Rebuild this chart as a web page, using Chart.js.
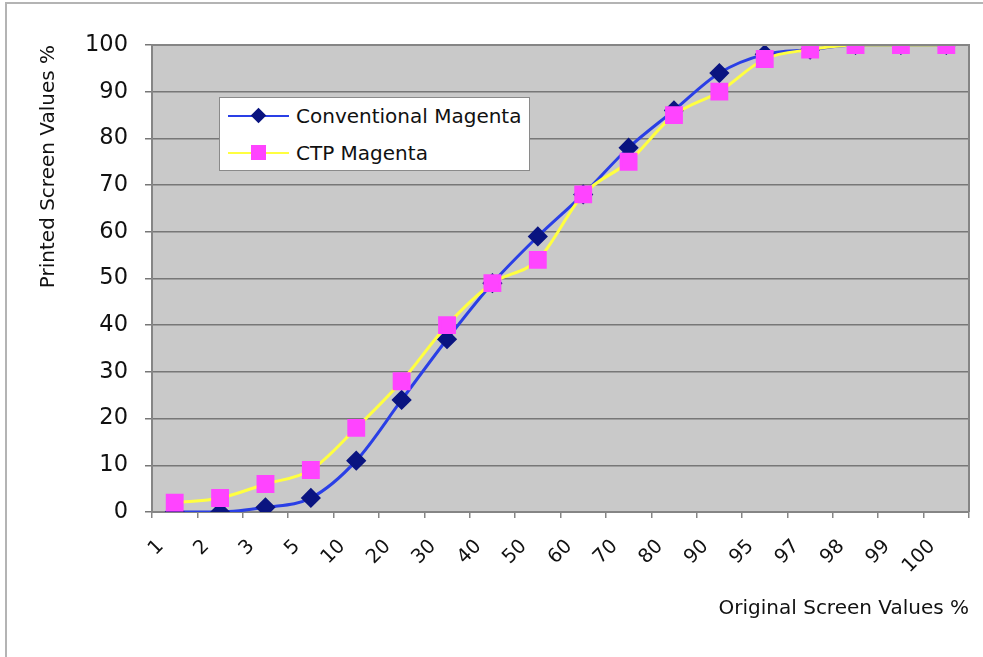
<!DOCTYPE html>
<html>
<head>
<meta charset="utf-8">
<script src="https://cdn.jsdelivr.net/npm/chart.js@4"></script>
<style>
    body { margin: 0; background: #fff; }
    #wrap { position: relative; width: 983px; height: 657px; overflow: hidden; }
    #frame { position: absolute; left: 5px; top: 2px; width: 990px; height: 670px;
             border-left: 2px solid #b4b4b4; border-top: 2px solid #b4b4b4; }
    #legend { position: absolute; left: 219px; top: 97px; width: 309px; height: 72px;
              background: #fff; border: 1px solid #8a8a8a; font-family: "DejaVu Sans", sans-serif;
              font-size: 20px; color: #111; }
    .row { position: absolute; left: 0; height: 30px; line-height: 30px; }
    .row .line { position: absolute; left: 8px; top: 14px; width: 61px; height: 2px; }
    .row .mark { position: absolute; }
    .row span { position: absolute; left: 76px; white-space: nowrap; }
</style>
</head>
<body>
<div id="wrap">
    <div id="frame"></div>
    <canvas id="chart" width="983" height="657"></canvas>
    <div id="legend">
        <div class="row" style="top:3px">
            <div class="line" style="background:#2a3fe6"></div>
            <div class="mark" style="left:33px;top:9px;width:11px;height:11px;background:#0a1480;transform:rotate(45deg)"></div>
            <span>Conventional Magenta</span>
        </div>
        <div class="row" style="top:40px">
            <div class="line" style="background:#ffff40"></div>
            <div class="mark" style="left:31px;top:7px;width:15px;height:15px;background:#ff44ff"></div>
            <span>CTP Magenta</span>
        </div>
    </div>
</div>
<script>
const categories = ['1', '2', '3', '5', '10', '20', '30', '40', '50', '60', '70', '80', '90', '95', '97', '98', '99', '100'];
const conventional = [0, 0, 1, 3, 11, 24, 37, 49, 59, 68, 78, 86, 94, 98, 99, 100, 100, 100];
const ctp = [2, 3, 6, 9, 18, 28, 40, 49, 54, 68, 75, 85, 90, 97, 99, 100, 100, 100];

// grey plot background + top/right border
const plotBox = {
    id: 'plotBox',
    beforeDraw(chart) {
        const { ctx, chartArea: a } = chart;
        ctx.save();
        ctx.fillStyle = '#c9c9c9';
        ctx.fillRect(a.left, a.top, a.right - a.left, a.bottom - a.top);
        ctx.restore();
    },
    afterDatasetsDraw(chart) {
        const { ctx, chartArea: a } = chart;
        ctx.save();
        ctx.strokeStyle = '#858585';
        ctx.lineWidth = 2;
        ctx.beginPath();
        ctx.moveTo(a.left, a.top);
        ctx.lineTo(a.right, a.top);
        ctx.lineTo(a.right, a.bottom);
        ctx.stroke();
        ctx.restore();
    }
};

new Chart(document.getElementById('chart'), {
    type: 'line',
    data: {
        labels: categories,
        datasets: [
            {
                label: 'CTP Magenta',
                data: ctp,
                borderColor: '#ffff40',
                borderWidth: 3,
                backgroundColor: '#ff44ff',
                pointBackgroundColor: '#ff44ff',
                pointBorderColor: '#ff44ff',
                pointStyle: 'rect',
                pointRadius: 10.5,
                cubicInterpolationMode: 'monotone',
                order: 0
            },
            {
                label: 'Conventional Magenta',
                data: conventional,
                borderColor: '#2a3fe6',
                borderWidth: 3,
                backgroundColor: '#0a1480',
                pointBackgroundColor: '#0a1480',
                pointBorderColor: '#0a1480',
                pointStyle: 'rectRot',
                pointRadius: 8,
                cubicInterpolationMode: 'monotone',
                order: 1
            }
        ]
    },
    options: {
        responsive: false,
        animation: false,
        layout: { padding: { left: 30, top: 45, right: 14, bottom: 10 } },
        plugins: {
            legend: { display: false },
            tooltip: { enabled: false }
        },
        scales: {
            x: {
                offset: true,
                afterFit: (s) => { s.height = 135; },
                grid: { offset: true, drawOnChartArea: false, tickLength: 6, color: '#858585', lineWidth: 1.5 },
                border: { color: '#858585', width: 2 },
                ticks: {
                    minRotation: 45, maxRotation: 45, autoSkip: false,
                    padding: 17, labelOffset: -14,
                    color: '#111', font: { family: 'DejaVu Sans', size: 19.5 }
                },
                title: {
                    display: true, text: 'Original Screen Values %', align: 'end',
                    color: '#111', font: { family: 'DejaVu Sans', size: 20 },
                    padding: { top: 0, bottom: 26 }
                }
            },
            y: {
                min: 0, max: 100,
                afterFit: (s) => { s.width = 122; },
                grid: { color: '#777', lineWidth: 1.5, tickLength: 7 },
                border: { color: '#858585', width: 2 },
                ticks: {
                    stepSize: 10, padding: 17,
                    color: '#111', font: { family: 'DejaVu Sans', size: 22.5 }
                },
                title: {
                    display: true, text: 'Printed Screen Values %', align: 'end',
                    color: '#111', font: { family: 'DejaVu Sans', size: 20 },
                    padding: { top: 7, bottom: 0 }
                }
            }
        }
    },
    plugins: [plotBox]
});
</script>
</body>
</html>
